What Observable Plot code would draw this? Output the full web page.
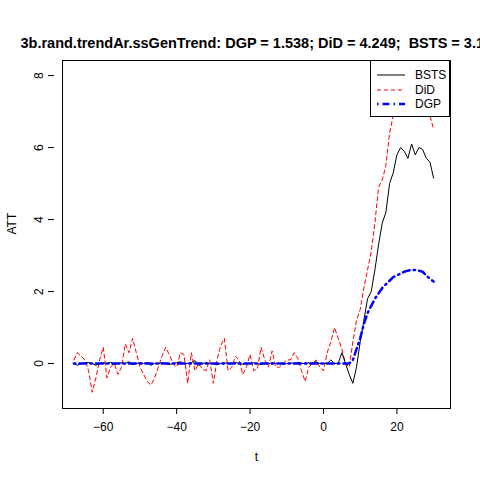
<!DOCTYPE html>
<html><head><meta charset="utf-8">
<script src="https://cdn.jsdelivr.net/npm/d3@7"></script>
<script src="https://cdn.jsdelivr.net/npm/@observablehq/plot@0.6"></script>
<style>
body{margin:0;background:#fff;font-family:"Liberation Sans",Arial,sans-serif;}
#wrap{position:relative;width:480px;height:480px;overflow:hidden;}
#legend{position:absolute;left:370px;top:60px;width:78px;height:55px;border:1px solid #000;background:#fff;font-size:12px;}
</style></head>
<body><div id="wrap"><div id="myplot"></div>
<div id="legend"><svg width="78" height="55">
<line x1="6" x2="34" y1="14" y2="14" stroke="black"/>
<text x="44" y="18">BSTS</text>
<line x1="6" x2="34" y1="29" y2="29" stroke="red" stroke-dasharray="4,3"/>
<text x="44" y="33">DiD</text>
<line x1="6" x2="34" y1="43" y2="43" stroke="blue" stroke-width="2.5" stroke-dasharray="1.5,4,7,4"/>
<text x="44" y="47">DGP</text>
</svg></div></div>
<script>
const title = "3b.rand.trendAr.ssGenTrend: DGP = 1.538; DiD = 4.249;  BSTS = 3.195";
const tStart = -68;
const did = [0.1,0.3,0.2,0.1,-0.2,-0.8,-0.4,0.1,0.45,-0.4,-0.1,0.0,-0.3,-0.1,0.55,0.3,0.7,0.3,-0.1,-0.3,-0.5,-0.6,-0.4,-0.1,0.2,0.45,0.25,0.0,-0.1,0.3,0.25,-0.55,0.3,-0.2,0.0,-0.15,-0.2,0.1,-0.55,0.1,0.5,0.7,-0.2,-0.1,0.2,0.1,-0.3,-0.1,0.25,-0.2,-0.15,0.45,0.1,-0.1,0.35,-0.1,-0.1,0.0,0.1,0.1,0.3,0.15,-0.2,-0.5,-0.1,0.0,0.1,-0.1,
  -0.2,0.3,0.6,1.0,0.7,0.4,0.0,-0.1,0.6,1.2,1.5,2.1,2.6,3.1,3.9,4.9,5.1,5.5,6.4,6.9,7.4,7.8,8.0,7.7,8.1,7.8,7.5,7.7,7.2,6.9,6.5];
const bsts = [0.0,-0.05,0.0,0.02,0.03,0.0,-0.05,0.0,0.02,0.0,0.03,-0.02,0.0,0.02,0.0,0.05,-0.03,0.0,0.02,0.0,0.03,-0.05,0.0,0.0,0.02,0.0,-0.03,0.0,0.02,0.05,0.0,0.0,0.03,0.08,-0.05,0.0,0.02,0.0,0.0,-0.03,0.0,0.02,0.0,0.0,0.03,0.0,-0.02,0.0,0.0,0.02,0.0,-0.03,0.0,0.0,0.02,0.0,0.0,-0.02,0.0,0.02,0.0,0.03,0.0,0.0,0.02,0.0,0.05,0.0,
  0.0,0.0,0.1,0.0,0.0,0.3,0.0,-0.3,-0.55,-0.1,0.6,1.2,1.8,2.0,2.6,3.3,3.9,4.2,5.0,5.3,5.8,6.0,5.9,5.7,6.1,5.8,6.0,5.95,5.7,5.6,5.15];
const dgpPost = [0,0,0,0,0,0,0,0,0.1,0.4,0.7,1.1,1.4,1.6,1.8,1.95,2.1,2.2,2.3,2.4,2.45,2.5,2.55,2.58,2.6,2.6,2.58,2.55,2.45,2.35,2.28];
const dgp = new Array(68).fill(0).concat(dgpPost);

const rows = (vals, s) => vals.map((v, i) => ({t: tStart + i, v, s}));
const data = [...rows(bsts, "BSTS"), ...rows(did, "DiD"), ...rows(dgp, "DGP")];

const plot = Plot.plot({
  width: 480, height: 480,
  marginTop: 60, marginLeft: 62, marginRight: 30, marginBottom: 72,
  style: {fontFamily: "Liberation Sans, Arial, sans-serif", fontSize: "12px", background: "white"},
  x: {domain: [-71.1, 34.6]},
  y: {domain: [-1.25, 8.42]},
  marks: [
    Plot.frame({stroke: "black"}),
    Plot.lineY(data.filter(d => d.s === "DiD"), {x: "t", y: "v", stroke: "red", strokeDasharray: "4,3", strokeWidth: 1}),
    Plot.lineY(data.filter(d => d.s === "BSTS"), {x: "t", y: "v", stroke: "black", strokeWidth: 1}),
    Plot.lineY(data.filter(d => d.s === "DGP"), {x: "t", y: "v", stroke: "blue", strokeWidth: 2.5, strokeDasharray: "1.5,4,7,4"}),
    Plot.axisX({ticks: [-60, -40, -20, 0, 20], tickSize: 6, tickPadding: 8, label: null, fontSize: 12}),
    Plot.axisY({ticks: [0, 2, 4, 6, 8], tickSize: 6, tickPadding: 6, tickRotate: -90, label: null, fontSize: 12, textAnchor: "middle", dx: -8}),
    Plot.text(["t"], {frameAnchor: "bottom", dy: 52, fontSize: 12}),
    Plot.text(["ATT"], {frameAnchor: "left", dx: -50, rotate: -90, fontSize: 12}),
    Plot.text([title], {frameAnchor: "top-left", dx: -42, dy: -23, textAnchor: "start", fontWeight: "bold", fontSize: 14.5})
  ]
});
document.querySelector("#myplot").append(plot);
</script></body></html>
